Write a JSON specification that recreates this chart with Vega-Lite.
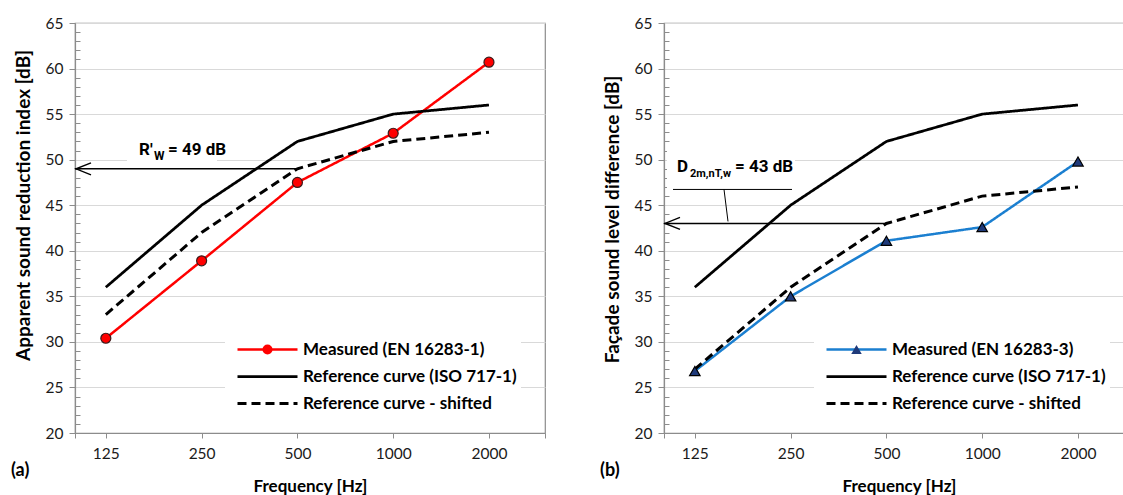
{
  "$schema": "https://vega.github.io/schema/vega-lite/v6.json",
  "padding": {"left": 10, "top": 15, "right": 0, "bottom": 0},
  "spacing": 52,
  "config": {
    "font": "Lato",
    "view": {"stroke": "#8c8c8c", "strokeWidth": 1.2},
    "axis": {"domainColor": "#8c8c8c", "domainWidth": 1.2, "tickColor": "#8c8c8c", "tickWidth": 1, "labelColor": "#1a1a1a", "labelFont": "Lato", "labelFontSize": 15.5, "titleFont": "Lato", "titleFontSize": 18, "titleFontWeight": "bold", "titleColor": "#000000", "gridColor": "#d9d9d9", "gridWidth": 1.2}
  },
  "resolve": {"scale": {"color": "independent", "strokeDash": "independent", "shape": "independent", "strokeWidth": "independent"}, "legend": {"color": "independent", "strokeDash": "independent", "shape": "independent"}},
  "hconcat": [
    {
      "width": 470,
      "height": 410,
      "title": {"text": "(a)", "orient": "bottom", "anchor": "start", "frame": "group", "dx": -64, "dy": -37, "fontSize": 18, "fontWeight": "bold", "font": "Lato", "color": "#000000"},
      "encoding": {
        "x": {"field": "f", "type": "quantitative", "scale": {"type": "log", "domain": [100, 3000]},
          "axis": {"title": "Frequency [Hz]", "titleFontSize": 17, "values": [100, 125, 250, 500, 1000, 2000, 3000], "format": "d", "labelExpr": "datum.value == 100 || datum.value == 3000 ? '' : datum.label", "grid": false, "tickSize": 5, "labelPadding": 8, "labelOverlap": false, "labelFlush": false, "titlePadding": 17}},
        "y": {"field": "db", "type": "quantitative", "scale": {"domain": [20, 65], "nice": false, "zero": false},
          "axis": {"title": "Apparent sound reduction index [dB]", "titleFontSize": 19, "titleY": 182, "values": [20,21,22,23,24,25,26,27,28,29,30,31,32,33,34,35,36,37,38,39,40,41,42,43,44,45,46,47,48,49,50,51,52,53,54,55,56,57,58,59,60,61,62,63,64,65], "labelExpr": "datum.value % 5 === 0 ? datum.label : ''", "tickSize": {"condition": {"test": "datum.value % 5 === 0", "value": 6}, "value": -5}, "gridOpacity": {"condition": {"test": "datum.value % 5 === 0", "value": 1}, "value": 0}, "labelPadding": 6, "labelOverlap": false, "titlePadding": 12}}
      },
      "layer": [
        {
          "data": {"values": [{"f": 100, "f_to": 500, "db": 49, "main": "R'", "sub": "W", "rest": "= 49 dB"}]},
          "mark": {"type": "point", "shape": "M -4.5 -1.2 H 4.5 V 1.2 H -4.5 Z", "size": 400, "filled": true, "fill": "white", "stroke": null, "opacity": 1, "xOffset": 97, "yOffset": -19}
        },
        {
          "data": {"values": [
            {"f": 125, "db": 30.4, "series": "Measured (EN 16283-1)"},
            {"f": 250, "db": 38.9, "series": "Measured (EN 16283-1)"},
            {"f": 500, "db": 47.5, "series": "Measured (EN 16283-1)"},
            {"f": 1000, "db": 52.9, "series": "Measured (EN 16283-1)"},
            {"f": 2000, "db": 60.7, "series": "Measured (EN 16283-1)"},
            {"f": 125, "db": 36, "series": "Reference curve (ISO 717-1)"},
            {"f": 250, "db": 45, "series": "Reference curve (ISO 717-1)"},
            {"f": 500, "db": 52, "series": "Reference curve (ISO 717-1)"},
            {"f": 1000, "db": 55, "series": "Reference curve (ISO 717-1)"},
            {"f": 2000, "db": 56, "series": "Reference curve (ISO 717-1)"},
            {"f": 125, "db": 33, "series": "Reference curve - shifted"},
            {"f": 250, "db": 42, "series": "Reference curve - shifted"},
            {"f": 500, "db": 49, "series": "Reference curve - shifted"},
            {"f": 1000, "db": 52, "series": "Reference curve - shifted"},
            {"f": 2000, "db": 53, "series": "Reference curve - shifted"}
          ]},
          "layer": [
            {
              "mark": {"type": "line", "strokeCap": "butt"},
              "encoding": {
                "color": {"field": "series", "type": "nominal", "scale": {"domain": ["Measured (EN 16283-1)", "Reference curve (ISO 717-1)", "Reference curve - shifted"], "range": ["#ff0000", "#000000", "#000000"]},
                  "legend": {"title": null, "orient": "none", "legendX": 150, "legendY": 314, "direction": "vertical", "symbolType": "M 0 0 L 10 0", "symbolSize": 144, "symbolStrokeWidth": 3, "labelFont": "Lato", "labelFontSize": 17, "labelFontWeight": "bold", "labelColor": "#000000", "labelOffset": 57, "rowPadding": 9, "padding": 4, "fillColor": "white", "strokeColor": null, "labelLimit": 400}},
                "strokeDash": {"field": "series", "type": "nominal", "scale": {"domain": ["Measured (EN 16283-1)", "Reference curve (ISO 717-1)", "Reference curve - shifted"], "range": [[1, 0], [1, 0], [9, 5]]},
                  "legend": {"title": null, "orient": "none", "legendX": 150, "legendY": 314, "direction": "vertical", "symbolType": "M 0 0 L 10 0", "symbolSize": 144, "symbolStrokeWidth": 3, "labelFont": "Lato", "labelFontSize": 17, "labelFontWeight": "bold", "labelColor": "#000000", "labelOffset": 57, "rowPadding": 9, "padding": 4, "fillColor": "white", "strokeColor": null, "labelLimit": 400}},
                "strokeWidth": {"field": "series", "type": "nominal", "scale": {"domain": ["Measured (EN 16283-1)", "Reference curve (ISO 717-1)", "Reference curve - shifted"], "range": [2.5, 3, 2.6]}, "legend": null}
              }
            },
            {
              "transform": [{"filter": "datum.series === 'Measured (EN 16283-1)'"}],
              "mark": {"type": "point", "filled": true, "fill": "#ff0000", "stroke": "#3a1a1a", "strokeWidth": 1.2, "size": 100, "opacity": 1},
              "encoding": {
                "shape": {"datum": "Measured (EN 16283-1)", "scale": {"range": ["circle"]},
                  "legend": {"title": null, "orient": "none", "legendX": 180, "legendY": 314, "symbolSize": 100, "symbolFillColor": "#ff0000", "symbolStrokeColor": "#3a1a1a", "symbolStrokeWidth": 1.2, "symbolOpacity": 1, "labelFontSize": 17, "labelExpr": "''", "padding": 4, "zindex": 2}}
              }
            }
          ]
        },
        {
          "data": {"values": [{"f": 100, "f_to": 500, "db": 49, "main": "R'", "sub": "W", "rest": "= 49 dB"}]},
          "layer": [
            {"mark": {"type": "rule", "color": "#000000", "strokeWidth": 1.4}, "encoding": {"x2": {"field": "f_to"}}},
            {"mark": {"type": "point", "shape": "M 2.5 -1 L 0 0 L 2.5 1", "size": 144, "filled": false, "stroke": "#000000", "strokeWidth": 1.4, "opacity": 1, "xOffset": 1}},
            {"mark": {"type": "text", "font": "Roboto", "fontWeight": "bold", "fontSize": 17, "align": "left", "baseline": "alphabetic", "dx": 64, "dy": -14, "color": "#000000"}, "encoding": {"text": {"field": "main"}}},
            {"mark": {"type": "text", "font": "Roboto", "fontWeight": "bold", "fontSize": 12, "align": "left", "baseline": "alphabetic", "dx": 79, "dy": -9, "color": "#000000"}, "encoding": {"text": {"field": "sub"}}},
            {"mark": {"type": "text", "font": "Roboto", "fontWeight": "bold", "fontSize": 17, "align": "left", "baseline": "alphabetic", "dx": 93, "dy": -14, "color": "#000000"}, "encoding": {"text": {"field": "rest"}}}
          ]
        }
      ]
    },
    {
      "width": 470,
      "height": 410,
      "title": {"text": "(b)", "orient": "bottom", "anchor": "start", "frame": "group", "dx": -64, "dy": -37, "fontSize": 18, "fontWeight": "bold", "font": "Lato", "color": "#000000"},
      "encoding": {
        "x": {"field": "f", "type": "quantitative", "scale": {"type": "log", "domain": [100, 3000]},
          "axis": {"title": "Frequency [Hz]", "titleFontSize": 17, "values": [100, 125, 250, 500, 1000, 2000, 3000], "format": "d", "labelExpr": "datum.value == 100 || datum.value == 3000 ? '' : datum.label", "grid": false, "tickSize": 5, "labelPadding": 8, "labelOverlap": false, "labelFlush": false, "titlePadding": 17}},
        "y": {"field": "db", "type": "quantitative", "scale": {"domain": [20, 65], "nice": false, "zero": false},
          "axis": {"title": "Façade sound level difference [dB]", "titleFontSize": 19, "titleY": 196, "values": [20,21,22,23,24,25,26,27,28,29,30,31,32,33,34,35,36,37,38,39,40,41,42,43,44,45,46,47,48,49,50,51,52,53,54,55,56,57,58,59,60,61,62,63,64,65], "labelExpr": "datum.value % 5 === 0 ? datum.label : ''", "tickSize": {"condition": {"test": "datum.value % 5 === 0", "value": 6}, "value": -5}, "gridOpacity": {"condition": {"test": "datum.value % 5 === 0", "value": 1}, "value": 0}, "labelPadding": 6, "labelOverlap": false, "titlePadding": 12}}
      },
      "layer": [
        {
          "data": {"values": [{"f": 100, "f_to": 500, "db": 43, "main": "D", "sub": "2m,nT,w", "rest": "= 43 dB"}]},
          "mark": {"type": "point", "shape": "M -6.4 -2.25 H 6.4 V 2.25 H -6.4 Z", "size": 400, "filled": true, "fill": "white", "stroke": null, "opacity": 1, "xOffset": 67, "yOffset": -57}
        },
        {
          "data": {"values": [
            {"f": 125, "db": 26.8, "series": "Measured (EN 16283-3)"},
            {"f": 250, "db": 35.0, "series": "Measured (EN 16283-3)"},
            {"f": 500, "db": 41.1, "series": "Measured (EN 16283-3)"},
            {"f": 1000, "db": 42.6, "series": "Measured (EN 16283-3)"},
            {"f": 2000, "db": 49.8, "series": "Measured (EN 16283-3)"},
            {"f": 125, "db": 36, "series": "Reference curve (ISO 717-1)"},
            {"f": 250, "db": 45, "series": "Reference curve (ISO 717-1)"},
            {"f": 500, "db": 52, "series": "Reference curve (ISO 717-1)"},
            {"f": 1000, "db": 55, "series": "Reference curve (ISO 717-1)"},
            {"f": 2000, "db": 56, "series": "Reference curve (ISO 717-1)"},
            {"f": 125, "db": 27, "series": "Reference curve - shifted"},
            {"f": 250, "db": 36, "series": "Reference curve - shifted"},
            {"f": 500, "db": 43, "series": "Reference curve - shifted"},
            {"f": 1000, "db": 46, "series": "Reference curve - shifted"},
            {"f": 2000, "db": 47, "series": "Reference curve - shifted"}
          ]},
          "layer": [
            {
              "mark": {"type": "line", "strokeCap": "butt"},
              "encoding": {
                "color": {"field": "series", "type": "nominal", "scale": {"domain": ["Measured (EN 16283-3)", "Reference curve (ISO 717-1)", "Reference curve - shifted"], "range": ["#1b7fd0", "#000000", "#000000"]},
                  "legend": {"title": null, "orient": "none", "legendX": 150, "legendY": 314, "direction": "vertical", "symbolType": "M 0 0 L 10 0", "symbolSize": 144, "symbolStrokeWidth": 3, "labelFont": "Lato", "labelFontSize": 17, "labelFontWeight": "bold", "labelColor": "#000000", "labelOffset": 57, "rowPadding": 9, "padding": 4, "fillColor": "white", "strokeColor": null, "labelLimit": 400}},
                "strokeDash": {"field": "series", "type": "nominal", "scale": {"domain": ["Measured (EN 16283-3)", "Reference curve (ISO 717-1)", "Reference curve - shifted"], "range": [[1, 0], [1, 0], [9, 5]]},
                  "legend": {"title": null, "orient": "none", "legendX": 150, "legendY": 314, "direction": "vertical", "symbolType": "M 0 0 L 10 0", "symbolSize": 144, "symbolStrokeWidth": 3, "labelFont": "Lato", "labelFontSize": 17, "labelFontWeight": "bold", "labelColor": "#000000", "labelOffset": 57, "rowPadding": 9, "padding": 4, "fillColor": "white", "strokeColor": null, "labelLimit": 400}},
                "strokeWidth": {"field": "series", "type": "nominal", "scale": {"domain": ["Measured (EN 16283-3)", "Reference curve (ISO 717-1)", "Reference curve - shifted"], "range": [2.5, 3, 2.6]}, "legend": null}
              }
            },
            {
              "transform": [{"filter": "datum.series === 'Measured (EN 16283-3)'"}],
              "mark": {"type": "point", "filled": true, "fill": "#1f3a7a", "stroke": "#000000", "strokeWidth": 1.2, "size": 110, "opacity": 1},
              "encoding": {
                "shape": {"datum": "Measured (EN 16283-3)", "scale": {"range": ["triangle-up"]},
                  "legend": {"title": null, "orient": "none", "legendX": 180, "legendY": 314, "symbolSize": 110, "symbolFillColor": "#1f3a7a", "symbolStrokeColor": "#000000", "symbolStrokeWidth": 1.2, "symbolOpacity": 1, "labelFontSize": 17, "labelExpr": "''", "padding": 4, "zindex": 2}}
              }
            }
          ]
        },
        {
          "data": {"values": [{"f": 100, "f_to": 500, "db": 43, "main": "D", "sub": "2m,nT,w", "rest": "= 43 dB"}]},
          "layer": [
            {"mark": {"type": "rule", "color": "#000000", "strokeWidth": 1.4}, "encoding": {"x2": {"field": "f_to"}}},
            {"mark": {"type": "rule", "color": "#000000", "strokeWidth": 1, "xOffset": 9, "x2Offset": 128, "yOffset": -34}, "encoding": {"x2": {"field": "f"}}},
            {"mark": {"type": "rule", "color": "#000000", "strokeWidth": 1, "xOffset": 60, "x2Offset": 64, "yOffset": -34, "y2Offset": -2}, "encoding": {"x2": {"field": "f"}, "y2": {"field": "db"}}},
            {"mark": {"type": "point", "shape": "M 2.5 -1 L 0 0 L 2.5 1", "size": 144, "filled": false, "stroke": "#000000", "strokeWidth": 1.4, "opacity": 1, "xOffset": 1}},
            {"mark": {"type": "text", "font": "Roboto", "fontWeight": "bold", "fontSize": 17, "align": "left", "baseline": "alphabetic", "dx": 13, "dy": -51, "color": "#000000"}, "encoding": {"text": {"field": "main"}}},
            {"mark": {"type": "text", "font": "Roboto", "fontWeight": "bold", "fontSize": 11, "align": "left", "baseline": "alphabetic", "dx": 26, "dy": -46, "color": "#000000"}, "encoding": {"text": {"field": "sub"}}},
            {"mark": {"type": "text", "font": "Roboto", "fontWeight": "bold", "fontSize": 17, "align": "left", "baseline": "alphabetic", "dx": 71, "dy": -51, "color": "#000000"}, "encoding": {"text": {"field": "rest"}}}
          ]
        }
      ]
    }
  ]
}
